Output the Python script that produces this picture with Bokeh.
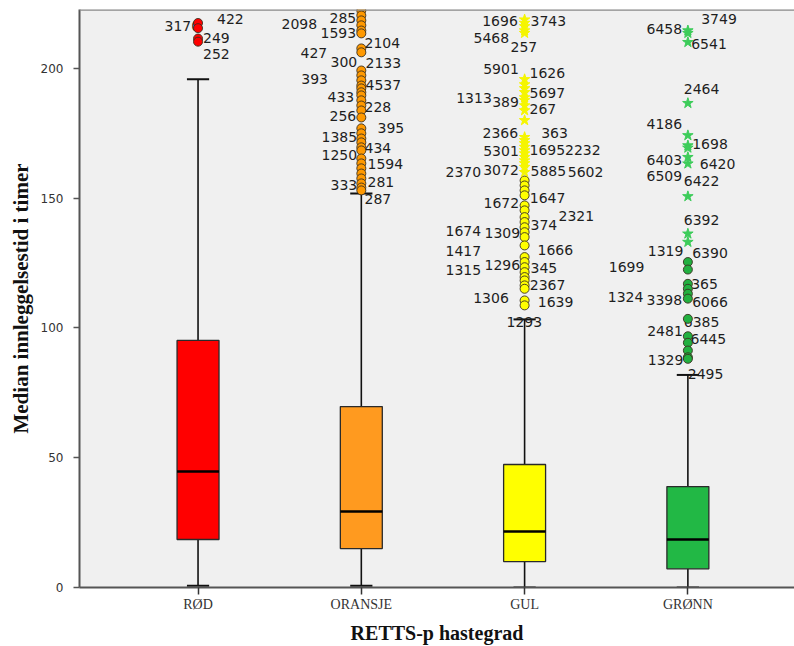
from bokeh.plotting import figure
from bokeh.models import Range1d, FixedTicker, ColumnDataSource, Span
from bokeh.core.properties import value
from bokeh.embed import file_html
from bokeh.resources import INLINE

# ---------------- data ----------------
categories = ["RØD", "ORANSJE", "GUL", "GRØNN"]
positions = [1, 2, 3, 4]
q1 = [18.5, 15.0, 10.0, 7.2]
median = [44.7, 29.3, 21.6, 18.5]
q3 = [95.2, 69.7, 47.4, 38.9]
whisker_low = [0.7, 0.7, 0.0, 0.0]
whisker_high = [195.8, 151.8, 103.3, 81.9]
y_top = 222.7

box_colors = ["#FF0000", "#FF9A1F", "#FFFF00", "#22B845"]
circle_colors = ["#FF0000", "#FF9900", "#FFFF00", "#22B040"]
star_colors = ["#FF0000", "#FF9900", "#F5F500", "#3DCC5A"]

mild_rod = [217.5, 215.5, 211.5, 210.3]
mild_oransje = [222.3, 220.4, 218.5, 216.6, 214.6, 213.5, 207.7, 206.2, 199.2, 197.3,
                195.4, 193.4, 192.3, 190.8, 189.6, 187.7, 185.7, 183.8, 181.1, 176.9,
                175.0, 173.0, 171.5, 169.6, 168.4, 165.3, 163.4, 161.5, 159.5, 157.6,
                155.7, 154.1, 153.0]
mild_gul = [156.8, 154.9, 153.0, 151.1, 147.2, 145.3, 142.7, 140.8, 138.8, 136.9,
            135.0, 131.8, 127.3, 125.4, 123.4, 121.5, 119.6, 118.3, 116.4, 115.1,
            110.6, 108.7]
mild_gronn = [125.4, 122.5, 117.0, 115.1, 113.2, 111.3, 103.5, 96.8, 94.3, 91.3,
              88.7, 88.1]

extreme_rod = []
extreme_oransje = []
extreme_gul = [218.8, 217.5, 216.2, 214.6, 213.6, 195.8, 193.8, 192.3, 190.8, 188.8,
               187.7, 185.7, 183.8, 180.0, 173.5, 172.3, 171.1, 169.7, 168.4, 167.2,
               165.8, 164.5, 163.4, 162.0, 160.0]
extreme_gronn = [214.6, 213.6, 210.1, 186.6, 174.2, 170.3, 169.4, 165.8, 163.3, 150.7,
                 136.3, 133.1]

# case-number labels: text, value (y), horizontal offset in px from category centre
lab_rod_text = ["3170", "422", "249", "252"]
lab_rod_val = [216.2, 219.2, 211.8, 205.4]
lab_rod_dx = [-33.5, 19, 5, 5]

lab_oransje_text = ["2098", "285", "1593", "2104", "427", "300", "2133", "393", "4537",
                    "433", "256", "228", "395", "1385", "434", "1250", "1594", "333",
                    "281", "287"]
lab_oransje_val = [217.0, 219.5, 213.5, 209.8, 205.8, 202.3, 201.9, 196.1, 193.5,
                   188.8, 181.5, 185.0, 176.9, 173.4, 169.2, 166.5, 163.0, 154.9,
                   156.1, 149.5]
lab_oransje_dx = [-79.8, -31.8, -40.8, 3.2, -60.8, -30.8, 4.2, -60.1, 4.2,
                  -33.8, -31.8, 3.2, 16.2, -39.8, 3.2, -39.8, 6.2, -30.8,
                  6.2, 3.2]

lab_gul_text = ["1696", "3743", "5468", "257", "5901", "1626", "1313", "389", "5697",
                "267", "2366", "363", "5301", "1695", "2232", "2370", "3072", "5885",
                "5602", "1647", "1672", "2321", "1674", "1309", "374", "1417", "1666",
                "1315", "1296", "345", "2367", "1306", "1639", "1293"]
lab_gul_val = [218.2, 218.2, 211.8, 208.2, 199.9, 198.2, 188.6, 187.0, 190.5,
               184.5, 175.1, 175.1, 168.1, 168.7, 168.7, 160.0, 160.7, 160.4,
               160.0, 150.2, 148.1, 143.0, 137.3, 136.5, 139.5, 129.6, 130.1,
               122.2, 124.1, 123.2, 116.6, 111.6, 109.9, 102.2]
lab_gul_dx = [-42.4, 5.9, -51.1, -14.1, -41.4, 4.9, -68.4, -32.4, 4.9,
              4.9, -42.1, 16.6, -41.4, 4.9, 40.4, -79.1, -41.4, 5.9,
              43.2, 5.2, -41.1, 33.9, -79.1, -40.1, 5.9, -79.1, 12.9,
              -79.1, -40.1, 5.9, 5.2, -51.4, 13.2, -18.1]

lab_gronn_text = ["3749", "6458", "6541", "2464", "4186", "1698", "6403", "6420", "6509",
                  "6422", "6392", "1319", "6390", "1699", "365", "1324", "3398", "6066",
                  "6385", "2481", "6445", "1329", "2495"]
lab_gronn_val = [219.2, 215.3, 209.3, 192.2, 178.7, 170.7, 164.8, 163.0, 158.4,
                 156.6, 141.7, 129.6, 128.8, 123.4, 117.0, 111.9, 110.9, 109.9,
                 102.2, 98.8, 95.8, 87.5, 82.1]
lab_gronn_dx = [13.3, -41.4, 3.3, -4.1, -41.4, 4.3, -41.4, 11.9, -41.4,
                -4.1, -4.1, -40.1, 4.3, -79.1, 3.3, -80.1, -41.4, 4.3,
                -4.1, -40.7, 2.6, -40.1, -0.1]

mild_all = [mild_rod, mild_oransje, mild_gul, mild_gronn]
extreme_all = [extreme_rod, extreme_oransje, extreme_gul, extreme_gronn]
lab_text_all = [lab_rod_text, lab_oransje_text, lab_gul_text, lab_gronn_text]
lab_val_all = [lab_rod_val, lab_oransje_val, lab_gul_val, lab_gronn_val]
lab_dx_all = [lab_rod_dx, lab_oransje_dx, lab_gul_dx, lab_gronn_dx]

# ---------------- figure ----------------
p = figure(width=794, height=646, output_backend="svg", toolbar_location=None,
           x_range=Range1d(0.274, 4.653), y_range=Range1d(0, y_top),
           min_border_left=79, min_border_top=9, min_border_bottom=59,
           min_border_right=0)
p.background_fill_color = "#F0F0F0"
p.border_fill_color = "white"
p.outline_line_color = None
p.grid.visible = False

# top frame line (the right side is cut off in the original)
p.add_layout(Span(location=y_top, dimension="width", line_color="#8a8a8a", line_width=2.5))

BOX_W = 0.257
CAP_HALF = 0.068

# whiskers
p.segment(x0=positions, x1=positions, y0=q3, y1=whisker_high, line_color="#111111", line_width=1.6)
p.segment(x0=positions, x1=positions, y0=whisker_low, y1=q1, line_color="#111111", line_width=1.6)
p.segment(x0=[x - CAP_HALF for x in positions], x1=[x + CAP_HALF for x in positions],
          y0=whisker_high, y1=whisker_high, line_color="#111111", line_width=2)
p.segment(x0=[x - CAP_HALF for x in positions], x1=[x + CAP_HALF for x in positions],
          y0=whisker_low, y1=whisker_low, line_color="#111111", line_width=2)

# boxes
p.vbar(x=positions, width=BOX_W, bottom=q1, top=q3, fill_color=box_colors,
       line_color="#2a2a2a", line_width=1.3)
p.segment(x0=[x - BOX_W / 2 for x in positions], x1=[x + BOX_W / 2 for x in positions],
          y0=median, y1=median, line_color="#000000", line_width=2.6)

# labels (drawn beneath the markers)
lx, ly, lt, ldx = [], [], [], []
for pos, texts, vals, dxs in zip(positions, lab_text_all, lab_val_all, lab_dx_all):
    for t, v, d in zip(texts, vals, dxs):
        lx.append(pos)
        ly.append(v)
        lt.append(t)
        ldx.append(d)
lab_src = ColumnDataSource(dict(x=lx, y=ly, text=lt, dx=ldx))
p.text(x="x", y="y", text="text", x_offset="dx", source=lab_src,
       text_align="left", text_baseline="middle",
       text_font=value("DejaVu Sans"), text_font_size="14px", text_color="#1e1e1e")

# outliers
for pos, vals, col in zip(positions, mild_all, circle_colors):
    if vals:
        p.scatter(x=[pos] * len(vals), y=vals, marker="circle", size=9,
                  fill_color=col, line_color="#3a3020", line_width=0.9)
for pos, vals, col in zip(positions, extreme_all, star_colors):
    if vals:
        p.scatter(x=[pos] * len(vals), y=vals, marker="star", size=11,
                  fill_color=col, line_color=col, line_width=1)

# axes
p.yaxis.ticker = FixedTicker(ticks=[0, 50, 100, 150, 200], minor_ticks=[])
p.yaxis.major_tick_out = 6
p.yaxis.major_tick_in = 0
p.yaxis.axis_line_color = "#555555"
p.yaxis.axis_line_width = 2
p.yaxis.major_tick_line_color = "#555555"
p.yaxis.major_tick_line_width = 1.5
p.yaxis.major_label_text_font = "DejaVu Sans"
p.yaxis.major_label_text_font_size = "12px"
p.yaxis.major_label_text_color = "#333333"
p.yaxis.major_label_standoff = 10
p.yaxis.axis_label = "Median innleggelsestid i timer"
p.yaxis.axis_label_text_font = "Liberation Serif"
p.yaxis.axis_label_text_font_style = "bold"
p.yaxis.axis_label_text_font_size = "21px"
p.yaxis.axis_label_text_color = "#111111"
p.yaxis.axis_label_standoff = 5

p.xaxis.ticker = FixedTicker(ticks=positions, minor_ticks=[])
p.xaxis.major_label_overrides = {pos: cat for pos, cat in zip(positions, categories)}
p.xaxis.major_tick_out = 7
p.xaxis.major_tick_in = 0
p.xaxis.axis_line_color = "#555555"
p.xaxis.axis_line_width = 2
p.xaxis.major_tick_line_color = "#333333"
p.xaxis.major_tick_line_width = 1.5
p.xaxis.major_label_text_font = "Liberation Serif"
p.xaxis.major_label_text_font_size = "14px"
p.xaxis.major_label_text_color = "#333333"
p.xaxis.major_label_standoff = 2
p.xaxis.axis_label = "RETTS-p hastegrad"
p.xaxis.axis_label_text_font = "Liberation Serif"
p.xaxis.axis_label_text_font_style = "bold"
p.xaxis.axis_label_text_font_size = "20px"
p.xaxis.axis_label_text_color = "#111111"
p.xaxis.axis_label_standoff = 7

open("out.html", "w").write(file_html(p, INLINE))
